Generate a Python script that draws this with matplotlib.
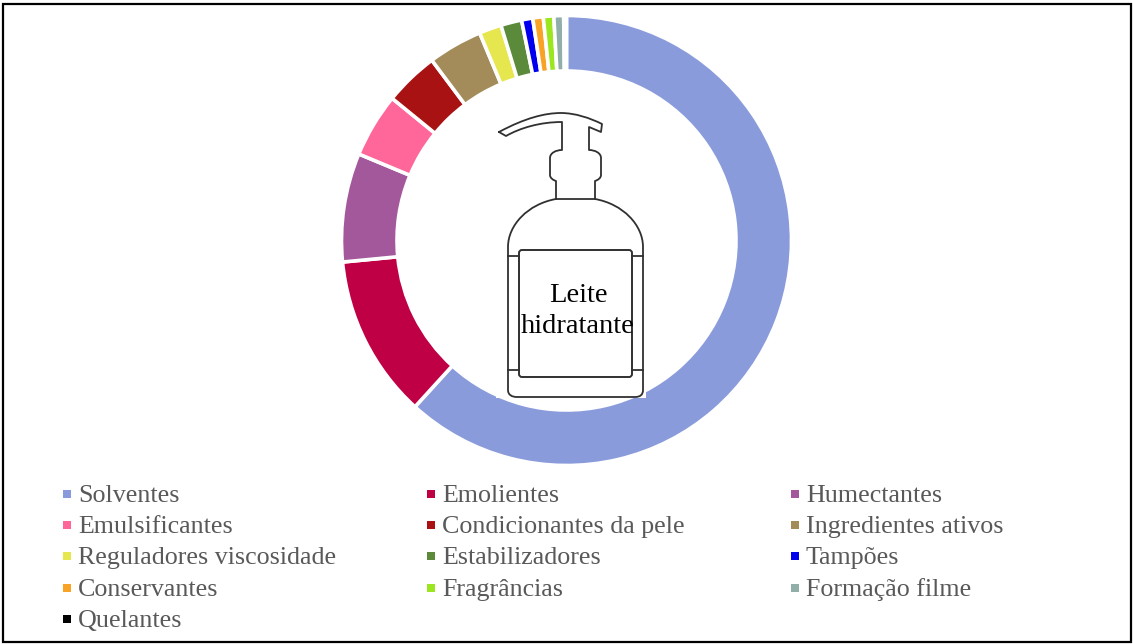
import matplotlib
matplotlib.use('Agg')
import matplotlib.pyplot as plt
from matplotlib.patches import PathPatch, Rectangle, FancyBboxPatch
from matplotlib.path import Path

categories = ['Solventes', 'Emolientes', 'Humectantes',
              'Emulsificantes', 'Condicionantes da pele', 'Ingredientes ativos',
              'Reguladores viscosidade', 'Estabilizadores', 'Tampões',
              'Conservantes', 'Fragrâncias', 'Formação filme',
              'Quelantes']
values = [61.7, 11.7, 7.8, 4.6, 3.9, 3.9, 1.6, 1.5, 0.8, 0.75, 0.75, 0.7, 0.2]
colors = ['#8a9bdc', '#c00045', '#a4589c', '#ff6699', '#a81212', '#a38b5a',
          '#e6e64f', '#5a8a3a', '#0000ee', '#f9a326', '#9be61e', '#92aea8',
          '#000000']

W, H = 1133, 644
SERIF = 'Liberation Serif'
LINE = '#303030'

fig = plt.figure(figsize=(W / 100, H / 100), dpi=100)

# donut, centre and radius in pixels
cx, cy, r = 566.5, 240.5, 225
ax = fig.add_axes([(cx - r) / W, 1 - (cy + r) / H, 2 * r / W, 2 * r / H])
ax.pie(values, colors=colors, startangle=90, counterclock=False, radius=1,
       wedgeprops=dict(width=55.5 / r, edgecolor='white', linewidth=2.6))
ax.set_xlim(-1, 1)
ax.set_ylim(-1, 1)

# overlay in pixel coordinates for the bottle, legend and frame
ov = fig.add_axes([0, 0, 1, 1], zorder=5)
ov.set_xlim(0, W)
ov.set_ylim(H, 0)
ov.axis('off')
ov.patch.set_alpha(0)

ov.add_patch(Rectangle((496, 100), 150, 298, fc='white', ec='none'))
ov.add_patch(Rectangle((2.5, 4), W - 4.5, H - 6, fc='none', ec='black', lw=1.6))


def curve(points, codes, lw=1.3):
    ov.add_patch(PathPatch(Path(points, codes), fc='none', ec=LINE, lw=lw,
                           joinstyle='round', capstyle='round'))


M, L, C = Path.MOVETO, Path.LINETO, Path.CURVE4

# pump head and neck
curve([(499, 132), (525, 118), (545, 113), (561, 113), (575, 113), (590, 118), (602, 124),
       (601, 132), (589, 127), (589, 150),
       (595, 150), (601, 153), (601, 158), (601, 175), (601, 178), (598, 180), (595, 181),
       (595, 199), (556, 199), (556, 181), (553, 180), (550, 178), (550, 175),
       (550, 158), (550, 153), (556, 150), (562, 150), (562, 122),
       (540, 122), (520, 128), (506, 136), (499, 132)],
      [M, C, C, C, C, C, C,
       L, L, L,
       C, C, C, L, C, C, C,
       L, L, L, C, C, C,
       L, C, C, C, L,
       C, C, C, L])

# bottle body
curve([(556, 199), (528, 204), (508, 225), (508, 247), (508, 390), (508, 395), (512, 397),
       (517, 397), (635, 397), (640, 397), (643, 395), (643, 390), (643, 247),
       (643, 225), (623, 204), (595, 199)],
      [M, C, C, C, L, C, C, C, L, C, C, C, L, C, C, C])

for x0, x1, y in [(508, 519, 256), (632, 643, 256), (508, 519, 370), (632, 643, 370)]:
    ov.plot([x0, x1], [y, y], color=LINE, lw=1.3)

ov.add_patch(FancyBboxPatch((521, 252), 109, 123, boxstyle='round,pad=2,rounding_size=3',
                            fc='white', ec=LINE, lw=1.4))

ov.text(578, 302, 'Leite', ha='center', va='baseline', color='black',
        family=SERIF, fontsize=20.5)
ov.text(577.5, 333, 'hidratante', ha='center', va='baseline', color='black',
        family=SERIF, fontsize=20.5)

# legend, filled row by row
col_x = [67, 431, 795]
row_y = [494, 525, 556, 588, 619]
for i, (name, color) in enumerate(zip(categories, colors)):
    x, y = col_x[i % 3], row_y[i // 3]
    ov.add_patch(Rectangle((x - 4, y - 4), 8, 8, fc=color, ec='none'))
    ov.text(x + 11, y + 8, name, ha='left', va='baseline', color='#595959',
            family=SERIF, fontsize=18.7)

fig.savefig('out.png', dpi=100)
